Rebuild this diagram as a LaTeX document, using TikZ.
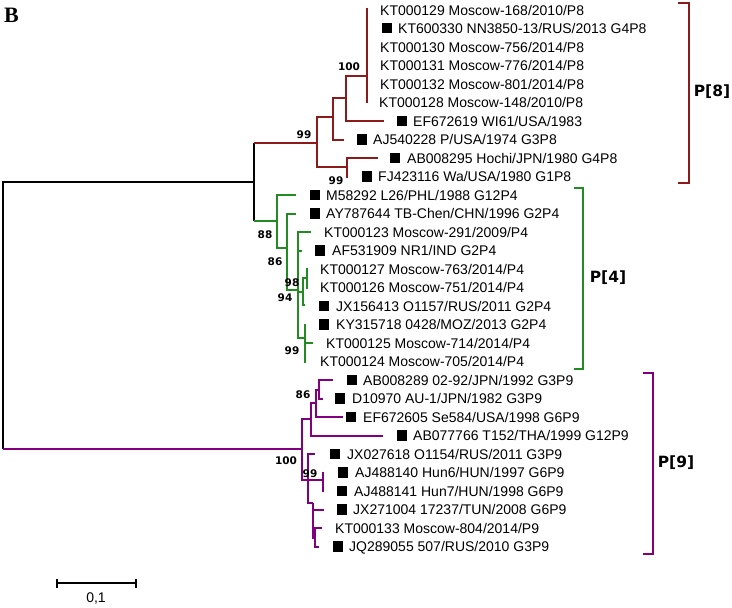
\documentclass[tikz,border=0pt]{standalone}
\usepackage{fontspec}
\newfontfamily\arialf{Liberation Sans}
\newfontfamily\verdf{DejaVu Sans}
\newfontfamily\timesf{Liberation Serif}
\definecolor{cR}{RGB}{139,26,26}
\definecolor{cG}{RGB}{34,139,34}
\definecolor{cP}{RGB}{128,0,128}
\tikzset{
 lab/.style={anchor=base west, inner sep=0pt, font=\arialf\fontsize{14}{16}\selectfont},
 sq/.style={fill=black, draw=none, minimum size=10.5pt, inner sep=0pt},
 bs/.style={inner sep=0pt, font=\verdf\bfseries\fontsize{10.5}{12}\selectfont},
 clab/.style={inner sep=0pt, font=\verdf\bfseries\fontsize{15.5}{18}\selectfont},
 tb/.style={line width=2pt, line join=miter},
 bb/.style={tb, draw=black},
 rb/.style={tb, draw=cR},
 gb/.style={tb, draw=cG},
 pb/.style={tb, draw=cP},
}
\begin{document}
\begin{tikzpicture}[x=1pt,y=-1pt]
\useasboundingbox (0,0) rectangle (732,608);
\node[anchor=base west, inner sep=0pt, font=\timesf\bfseries\fontsize{22}{24}\selectfont] (title) at (4,22) {B};

% ---------- leaves ----------
\node[lab] (t1) at (380,15) {KT000129 Moscow-168/2010/P8};
\node[sq] (s2) at (387,28) {};
\node[lab] (t2) at (398,33.5) {KT600330 NN3850-13/RUS/2013 G4P8};
\node[lab] (t3) at (380,52) {KT000130 Moscow-756/2014/P8};
\node[lab] (t4) at (380,70.5) {KT000131 Moscow-776/2014/P8};
\node[lab] (t5) at (380,89) {KT000132 Moscow-801/2014/P8};
\node[lab] (t6) at (379,107.5) {KT000128 Moscow-148/2010/P8};
\node[sq] (s7) at (402,121) {};
\node[lab] (t7) at (413,126) {EF672619 WI61/USA/1983};
\node[sq] (s8) at (362,139.5) {};
\node[lab] (t8) at (373,144.5) {AJ540228 P/USA/1974 G3P8};
\node[sq] (s9) at (395,158) {};
\node[lab] (t9) at (407,163) {AB008295 Hochi/JPN/1980 G4P8};
\node[sq] (s10) at (367,176.5) {};
\node[lab] (t10) at (378,181.5) {FJ423116 Wa/USA/1980 G1P8};
\node[sq] (s11) at (315,195) {};
\node[lab] (t11) at (326,200) {M58292 L26/PHL/1988 G12P4};
\node[sq] (s12) at (315,213.5) {};
\node[lab] (t12) at (326,218.5) {AY787644 TB-Chen/CHN/1996 G2P4};
\node[lab] (t13) at (324,237) {KT000123 Moscow-291/2009/P4};
\node[sq] (s14) at (320,250.5) {};
\node[lab] (t14) at (332,255.5) {AF531909 NR1/IND G2P4};
\node[lab] (t15) at (320,274) {KT000127 Moscow-763/2014/P4};
\node[lab] (t16) at (320,292.5) {KT000126 Moscow-751/2014/P4};
\node[sq] (s17) at (324,306) {};
\node[lab] (t17) at (336,311) {JX156413 O1157/RUS/2011 G2P4};
\node[sq] (s18) at (324,324.5) {};
\node[lab] (t18) at (336,329.5) {KY315718 0428/MOZ/2013 G2P4};
\node[lab] (t19) at (326,348) {KT000125 Moscow-714/2014/P4};
\node[lab] (t20) at (320,366.5) {KT000124 Moscow-705/2014/P4};
\node[sq] (s21) at (352,380) {};
\node[lab] (t21) at (363,385) {AB008289 02-92/JPN/1992 G3P9};
\node[sq] (s22) at (340,398.5) {};
\node[lab] (t22) at (352,403.5) {D10970 AU-1/JPN/1982 G3P9};
\node[sq] (s23) at (351,417) {};
\node[lab] (t23) at (363,422) {EF672605 Se584/USA/1998 G6P9};
\node[sq] (s24) at (402,435.5) {};
\node[lab] (t24) at (413,440.5) {AB077766 T152/THA/1999 G12P9};
\node[sq] (s25) at (335,454) {};
\node[lab] (t25) at (347,459) {JX027618 O1154/RUS/2011 G3P9};
\node[sq] (s26) at (343,472.5) {};
\node[lab] (t26) at (355,477.5) {AJ488140 Hun6/HUN/1997 G6P9};
\node[sq] (s27) at (342,491) {};
\node[lab] (t27) at (354,496) {AJ488141 Hun7/HUN/1998 G6P9};
\node[sq] (s28) at (342,509.5) {};
\node[lab] (t28) at (353,514.5) {JX271004 17237/TUN/2008 G6P9};
\node[lab] (t29) at (335,533) {KT000133 Moscow-804/2014/P9};
\node[sq] (s30) at (338,546.5) {};
\node[lab] (t30) at (349,551.5) {JQ289055 507/RUS/2010 G3P9};

% ---------- tree coordinates ----------
\coordinate (root) at (3,315);
\coordinate (nRG) at (254,182);
\coordinate (nRGtop) at (254,143);
\coordinate (nRGbot) at (254,221);
% red
\coordinate (rB) at (317,143);
\coordinate (rA) at (333,117);
\coordinate (r100) at (346,98);
\coordinate (rpoly) at (367,76);
\coordinate (rpolyT) at (367,8);
\coordinate (rpolyB) at (367,103);
\coordinate (e7) at (384,121);
\coordinate (e8) at (344,139.5);
\coordinate (rH) at (347,167);
\coordinate (e9) at (378,158);
\coordinate (e10) at (348,176.5);
% green
\coordinate (g1) at (277,221);
\coordinate (e11) at (296,195);
\coordinate (g2) at (287,248);
\coordinate (e12) at (296,213.5);
\coordinate (g3) at (298,290);
\coordinate (e13) at (311,232);
\coordinate (e14) at (302,250.5);
\coordinate (g98) at (303,292);
\coordinate (g98a) at (307,278);
\coordinate (e15) at (308,269);
\coordinate (e16) at (308,287.5);
\coordinate (e17) at (305,305);
\coordinate (g99) at (305,338);
\coordinate (e18) at (306,324.5);
\coordinate (e19) at (313,343);
\coordinate (e20) at (306,361.5);
% purple
\coordinate (p0) at (302,449);
\coordinate (p1) at (311,419);
\coordinate (p2) at (316,403);
\coordinate (p3) at (319,390);
\coordinate (e21) at (333,380);
\coordinate (e22) at (323,398.5);
\coordinate (e23) at (343,417);
\coordinate (e24) at (383,435.5);
\coordinate (p4) at (308,480);
\coordinate (e25) at (315,454);
\coordinate (p5) at (323,480);
\coordinate (e26) at (324,472.5);
\coordinate (e27) at (324,491);
\coordinate (p6) at (313,503);
\coordinate (e28) at (324,509.5);
\coordinate (p7) at (315,538);
\coordinate (e29) at (322,528);
\coordinate (e30) at (319,546.5);

% ---------- black ----------
\draw[bb] (root) |- (nRG);
\draw[bb] (root) -- (root |- p0);
\draw[bb] (nRGtop) -- (nRGbot);
% ---------- red ----------
\draw[rb] (nRGtop) -- (rB);
\draw[rb] (rB) |- (rA);
\draw[rb] (rB) |- (rH);
\draw[rb] (rA) |- (r100);
\draw[rb] (rA) |- (e8);
\draw[rb] (r100) |- (rpoly);
\draw[rb] (r100) |- (e7);
\draw[rb] (rpolyT) -- (rpolyB);
\draw[rb] (rH) |- (e9);
\draw[rb] (rH) |- (e10);
% ---------- green ----------
\draw[gb] (nRGbot) -- (g1);
\draw[gb] (g1) |- (e11);
\draw[gb] (g1) |- (g2);
\draw[gb] (g2) |- (e12);
\draw[gb] (g2) |- (g3);
\draw[gb] (g3) |- (e13);
\draw[gb] (g3) |- (e14);
\draw[gb] (g3) |- (g98);
\draw[gb] (g3) |- (g99);
\draw[gb] (g98) |- (g98a);
\draw[gb] (g98) |- (e17);
\draw[gb] (g98a) |- (e15);
\draw[gb] (g98a) |- (e16);
\draw[gb] (g99) |- (e18);
\draw[gb] (g99) |- (e19);
\draw[gb] (g99) |- (e20);
% ---------- purple ----------
\draw[pb] (root |- p0) -- (p0);
\draw[pb] (p0) |- (p1);
\draw[pb] (p0) |- (p4);
\draw[pb] (p1) |- (p2);
\draw[pb] (p1) |- (e24);
\draw[pb] (p2) |- (p3);
\draw[pb] (p2) |- (e23);
\draw[pb] (p3) |- (e21);
\draw[pb] (p3) |- (e22);
\draw[pb] (p4) |- (e25);
\draw[pb] (p4) |- (p5);
\draw[pb] (p4) |- (p6);
\draw[pb] (p5) |- (e26);
\draw[pb] (p5) |- (e27);
\draw[pb] (p6) |- (e28);
\draw[pb] (p6) |- (p7);
\draw[pb] (p7) |- (e29);
\draw[pb] (p7) |- (e30);

% ---------- bootstrap values ----------
\node[bs] (b1) at (349,67) {100};
\node[bs] (b2) at (304,135) {99};
\node[bs] (b3) at (336,181) {99};
\node[bs] (b4) at (265,235) {88};
\node[bs] (b5) at (275,262) {86};
\node[bs] (b6) at (292,283) {98};
\node[bs] (b7) at (285,298) {94};
\node[bs] (b8) at (292,351) {99};
\node[bs] (b9) at (303,395) {86};
\node[bs] (b10) at (286,461) {100};
\node[bs] (b11) at (310,474) {99};

% ---------- clade brackets ----------
\coordinate (kR1) at (678,3);
\coordinate (kR2) at (678,183);
\draw[rb] (kR1) -- ++(11,0) |- (kR2);
\node[clab] (P8) at (712,92) {P[8]};
\coordinate (kG1) at (574,188);
\coordinate (kG2) at (574,369);
\draw[gb] (kG1) -- ++(9,0) |- (kG2);
\node[clab] (P4) at (608,278) {P[4]};
\coordinate (kP1) at (643,373);
\coordinate (kP2) at (643,554);
\draw[pb] (kP1) -- ++(10,0) |- (kP2);
\node[clab] (P9) at (676,463) {P[9]};

% ---------- scale bar ----------
\coordinate (sb1) at (57,583);
\coordinate (sb2) at (136,583);
\draw[bb] (sb1) -- (sb2);
\draw[bb] ([yshift=-4.5pt]sb1) -- ([yshift=4.5pt]sb1);
\draw[bb] ([yshift=-4.5pt]sb2) -- ([yshift=4.5pt]sb2);
\node[inner sep=0pt, font=\arialf\fontsize{14}{16}\selectfont] (sbl) at (96,599) {0,1};
\end{tikzpicture}
\end{document}
